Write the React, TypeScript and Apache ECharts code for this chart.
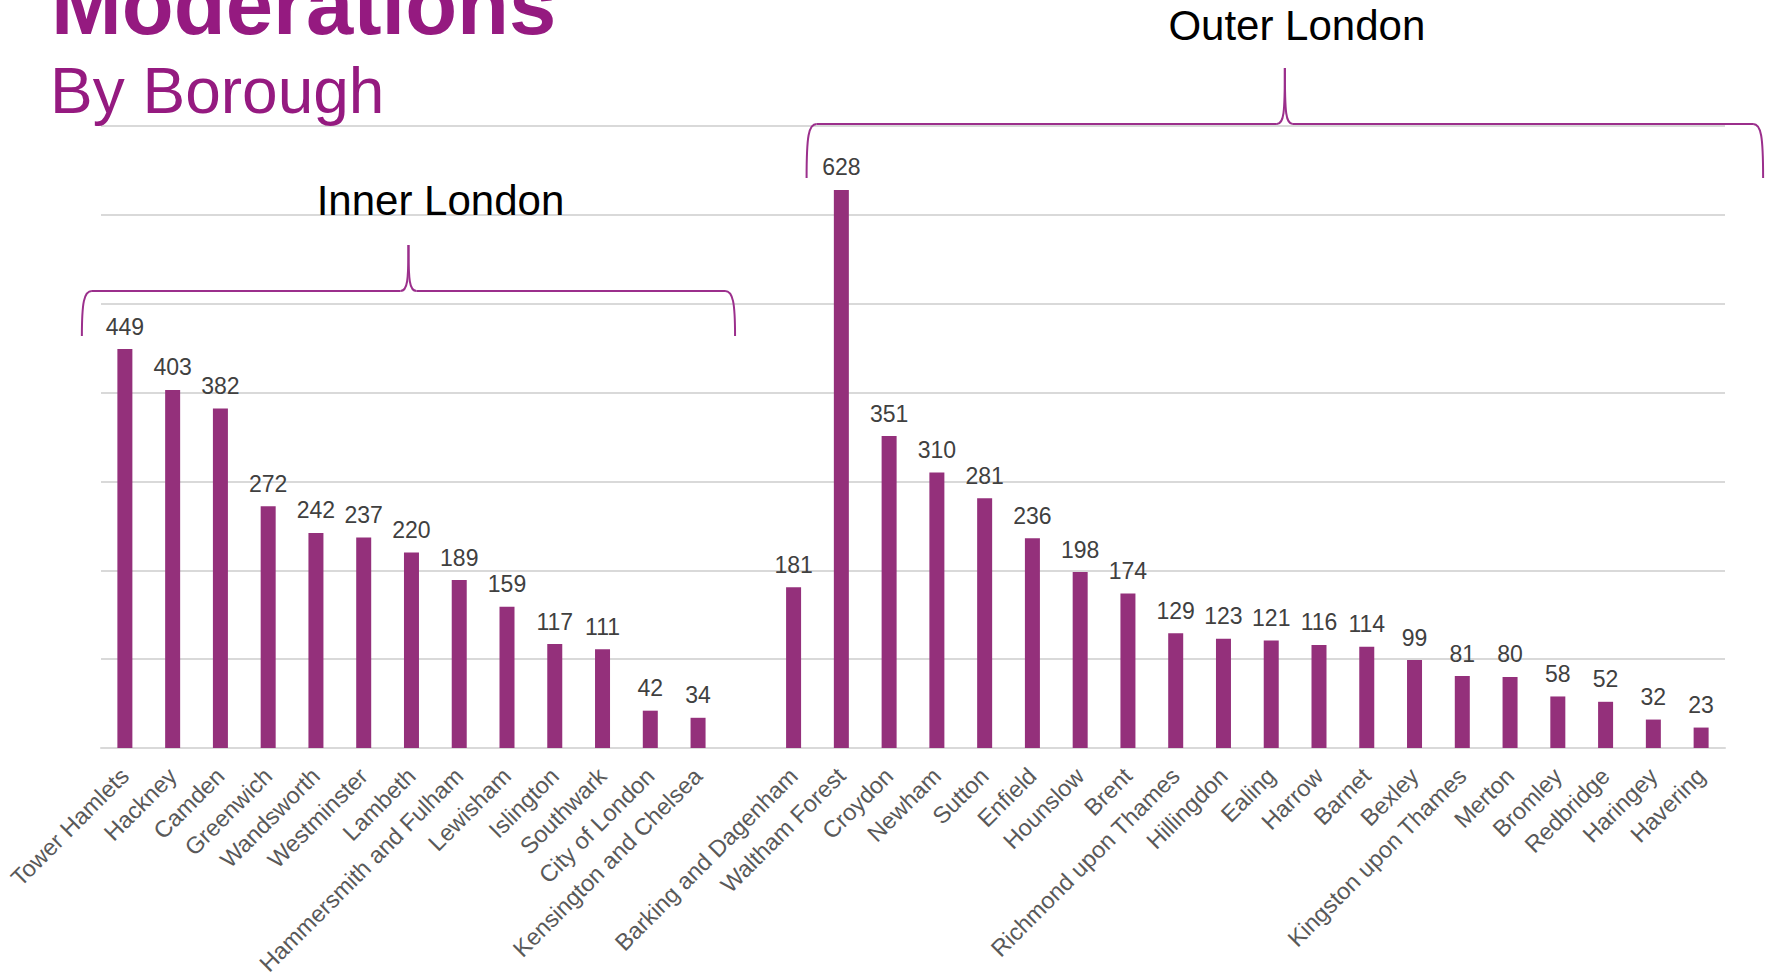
import React, { useEffect, useRef } from "react";
import * as echarts from "echarts";

const innerBoroughs = [
  "Tower Hamlets", "Hackney", "Camden", "Greenwich", "Wandsworth", "Westminster",
  "Lambeth", "Hammersmith and Fulham", "Lewisham", "Islington", "Southwark",
  "City of London", "Kensington and Chelsea",
];
const innerValues = [449, 403, 382, 272, 242, 237, 220, 189, 159, 117, 111, 42, 34];

const outerBoroughs = [
  "Barking and Dagenham", "Waltham Forest", "Croydon", "Newham", "Sutton", "Enfield",
  "Hounslow", "Brent", "Richmond upon Thames", "Hillingdon", "Ealing", "Harrow",
  "Barnet", "Bexley", "Kingston upon Thames", "Merton", "Bromley", "Redbridge",
  "Haringey", "Havering",
];
const outerValues = [181, 628, 351, 310, 281, 236, 198, 174, 129, 123, 121, 116, 114, 99, 81, 80, 58, 52, 32, 23];

const categories = [...innerBoroughs, "", ...outerBoroughs];
const values: (number | null)[] = [...innerValues, null, ...outerValues];

const FONT = "'Liberation Sans', Arial, sans-serif";
const PURPLE = "#94307b";
const TITLE = "#951a80";
const BRACE = "#9b2f8c";

function brace(L: number, R: number, P: number, h: number, bottom: number, top: number) {
  const st = { stroke: BRACE, lineWidth: 2, fill: "none" };
  return [
    { type: "bezierCurve", silent: true, shape: { x1: L, y1: bottom, cpx1: L, cpy1: h + 12, cpx2: L + 2, cpy2: h, x2: L + 10, y2: h }, style: st },
    { type: "line", silent: true, shape: { x1: L + 10, y1: h, x2: P - 8, y2: h }, style: st },
    { type: "bezierCurve", silent: true, shape: { x1: P - 8, y1: h, cpx1: P - 1, cpy1: h, cpx2: P, cpy2: h - 10, x2: P, y2: top }, style: st },
    { type: "bezierCurve", silent: true, shape: { x1: P + 8, y1: h, cpx1: P + 1, cpy1: h, cpx2: P, cpy2: h - 10, x2: P, y2: top }, style: st },
    { type: "line", silent: true, shape: { x1: P + 8, y1: h, x2: R - 10, y2: h }, style: st },
    { type: "bezierCurve", silent: true, shape: { x1: R - 10, y1: h, cpx1: R - 2, cpy1: h, cpx2: R, cpy2: h + 12, x2: R, y2: bottom }, style: st },
  ];
}

export default function App() {
  const ref = useRef<HTMLDivElement>(null);
  useEffect(() => {
    if (!ref.current) return;
    const chart = echarts.init(ref.current, null, { renderer: "svg" });
    chart.setOption({
      animation: false,
      grid: { left: 101, right: 42, top: 126, bottom: 231, containLabel: false, outerBoundsMode: "none" },
      xAxis: {
        type: "category",
        data: categories,
        axisTick: { show: false },
        axisLine: { show: true, lineStyle: { color: "#d9d9d9", width: 2 } },
        axisLabel: {
          rotate: 45,
          interval: 0,
          margin: 24,
          color: "#595959",
          fontSize: 23.5,
          fontFamily: FONT,
        },
      },
      yAxis: {
        type: "value",
        min: 0,
        max: 700,
        interval: 100,
        axisLabel: { show: false },
        axisLine: { show: false },
        axisTick: { show: false },
        splitLine: { show: true, lineStyle: { color: "#d9d9d9", width: 2 } },
      },
      series: [
        {
          type: "bar",
          data: values,
          barWidth: 15,
          itemStyle: { color: PURPLE },
          label: {
            show: true,
            position: "top",
            distance: 11,
            color: "#404040",
            fontSize: 23,
            fontFamily: FONT,
          },
        },
      ],
    });

    const px = (i: number) => chart.convertToPixel({ xAxisIndex: 0 }, i) as number;
    const iL = px(0) - 43;
    const iR = px(innerBoroughs.length - 1) + 37;
    const iP = (iL + iR) / 2;
    const oL = px(innerBoroughs.length + 1) + 13;
    const oR = px(categories.length - 1) + 62;
    const oP = (oL + oR) / 2;

    chart.setOption({
      graphic: [
        {
          type: "text",
          silent: true,
          style: { text: "Moderations", x: 51, y: 4, fill: TITLE, fontSize: 85, fontWeight: "bold", fontFamily: FONT, verticalAlign: "middle" },
        },
        {
          type: "text",
          silent: true,
          style: { text: "By Borough", x: 50, y: 91, fill: TITLE, fontSize: 64, fontFamily: FONT, verticalAlign: "middle" },
        },
        ...brace(iL, iR, iP, 291, 336, 245),
        ...brace(oL, oR, oP, 124, 178, 68),
        {
          type: "text",
          silent: true,
          style: { text: "Inner London", x: iP + 32, y: 200, fill: "#000", fontSize: 42, fontFamily: FONT, align: "center", verticalAlign: "middle" },
        },
        {
          type: "text",
          silent: true,
          style: { text: "Outer London", x: oP + 12, y: 25, fill: "#000", fontSize: 42, fontFamily: FONT, align: "center", verticalAlign: "middle" },
        },
      ],
    });
    return () => chart.dispose();
  }, []);
  return <div ref={ref} style={{ position: "fixed", left: 0, top: 0, width: "1767px", height: "979px", background: "#fff" }} />;
}
